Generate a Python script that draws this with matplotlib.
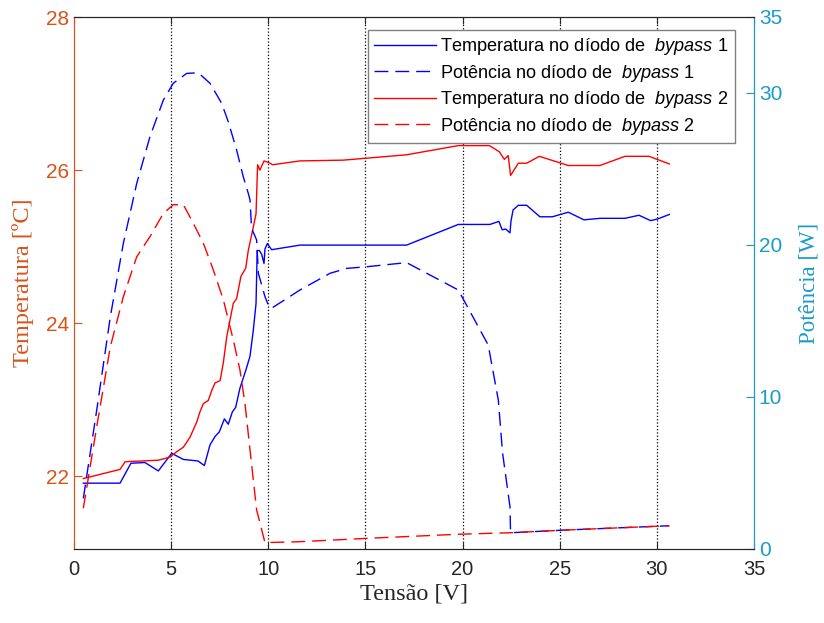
import matplotlib
matplotlib.use("Agg")
import matplotlib.pyplot as plt

# Temperatura no díodo de bypass 1 (blue solid)
v_t1 = [0.48, 2.37, 2.93, 3.65, 4.34, 5.03, 5.63, 6.38, 6.71, 7.0, 7.26, 7.48, 7.74, 7.94,
        8.15, 8.32, 8.54, 8.85, 9.06, 9.23, 9.37, 9.43, 9.54, 9.66, 9.78, 9.83, 9.95, 10.17,
        11.63, 17.12, 19.78, 21.41, 21.87, 22.04, 22.22, 22.44, 22.49, 22.6, 22.87, 23.3,
        23.98, 24.62, 25.44, 26.25, 27.07, 28.36, 29.08, 29.68, 30.02, 30.64]
t1 = [21.91, 21.91, 22.17, 22.18, 22.07, 22.30, 22.22, 22.20, 22.14, 22.41, 22.52, 22.58, 22.75, 22.68,
      22.84, 22.90, 23.15, 23.39, 23.57, 23.91, 24.26, 24.95, 24.95, 24.90, 24.78, 24.97, 25.04, 24.96,
      25.02, 25.02, 25.29, 25.29, 25.33, 25.22, 25.23, 25.18, 25.33, 25.48, 25.54, 25.54,
      25.39, 25.39, 25.45, 25.35, 25.37, 25.37, 25.41, 25.34, 25.36, 25.42]

# Temperatura no díodo de bypass 2 (red solid)
v_t2 = [0.48, 2.37, 2.63, 4.34, 4.94, 5.28, 5.63, 5.97, 6.32, 6.48, 6.66, 6.91, 7.09, 7.26, 7.52,
        7.69, 7.86, 7.99, 8.2, 8.37, 8.59, 8.84, 8.97, 9.2, 9.37, 9.45, 9.57, 9.78, 10.0, 10.23,
        11.63, 13.86, 17.12, 19.78, 21.38, 21.89, 22.15, 22.35, 22.47, 22.87, 23.3, 23.95, 25.44,
        27.07, 28.36, 29.6, 30.64]
t2 = [21.97, 22.09, 22.19, 22.21, 22.25, 22.32, 22.38, 22.51, 22.71, 22.84, 22.95, 22.99, 23.12, 23.22, 23.25,
      23.49, 23.82, 23.99, 24.26, 24.32, 24.61, 24.72, 24.95, 25.22, 25.43, 26.07, 26.0, 26.12, 26.1, 26.07,
      26.12, 26.13, 26.2, 26.32, 26.32, 26.24, 26.14, 26.19, 25.93, 26.09, 26.09, 26.18, 26.06,
      26.06, 26.18, 26.18, 26.08]

# Potência no díodo de bypass 1 (blue dashed)
v_p1 = [0.48, 1.17, 1.87, 2.54, 3.23, 3.91, 4.6, 5.11, 5.8, 6.4, 7.0, 7.6, 7.94, 8.37, 8.71,
        8.97, 9.06, 9.14, 9.4, 9.49, 9.83, 10.0, 10.17, 11.63, 13.18, 14.03, 15.06, 17.12, 19.78,
        21.32, 21.84, 22.06, 22.44, 22.47, 25.35, 30.64]
p1 = [3.33, 9.14, 15.28, 20.11, 24.06, 27.13, 29.54, 30.64, 31.29, 31.33, 30.64, 29.32, 28.11, 26.25, 24.5,
      23.4, 22.96, 21.1, 20.33, 18.14, 16.6, 16.05, 15.84, 17.04, 18.14, 18.46, 18.57, 18.84, 17.04,
      13.42, 9.8, 6.3, 2.78, 1.07, 1.25, 1.53]

# Potência no díodo de bypass 2 (red dashed)
v_p2 = [0.48, 1.17, 1.87, 2.54, 3.23, 3.91, 4.6, 5.11, 5.63, 6.14, 6.66, 7.17, 7.69, 8.2, 8.54,
        8.8, 9.06, 9.4, 9.83, 11.63, 15.06, 19.78, 22.47, 25.35, 30.64]
p2 = [2.68, 8.05, 13.31, 16.6, 19.23, 20.55, 22.08, 22.65, 22.65, 21.43, 20.11, 18.36, 16.38, 13.75, 11.78,
      9.58, 6.51, 2.57, 0.42, 0.48, 0.7, 0.97, 1.07, 1.25, 1.53]

left_color = '#D95319'
right_color = '#1a9bc8'

plt.rcParams['mathtext.fontset'] = 'custom'
plt.rcParams['mathtext.it'] = 'Liberation Sans:italic'
plt.rcParams['mathtext.rm'] = 'Liberation Sans'

fig = plt.figure(figsize=(8.24, 6.23), dpi=100)
ax = fig.add_axes([74 / 824, 1 - 549 / 623, 680 / 824, 532 / 623])
ax2 = ax.twinx()

dash = (10, 5)
l1, = ax.plot(v_t1, t1, '-', color='#0000ff', lw=1.0,
              label='Temperatura no díodo de  $\\mathit{bypass}$ 1')
l2, = ax2.plot(v_p1, p1, '--', color='#0000ff', lw=1.0, dashes=dash,
               label='Potência no díodo de  $\\mathit{bypass}$ 1')
l3, = ax.plot(v_t2, t2, '-', color='#ff0000', lw=1.0,
              label='Temperatura no díodo de  $\\mathit{bypass}$ 2')
l4, = ax2.plot(v_p2, p2, '--', color='#ff0000', lw=1.0, dashes=dash,
               label='Potência no díodo de  $\\mathit{bypass}$ 2')

ax.set_xlim(0, 35)
ax.set_ylim(21.05, 28)
ax2.set_ylim(0, 35)
ax.set_xticks(range(0, 36, 5))
ax.set_yticks([22, 24, 26, 28])
ax2.set_yticks([0, 10, 20, 30, 35])

for x in range(5, 35, 5):
    ax.axvline(x, color='black', ls=':', lw=0.9, zorder=0)

tick_font = 'Liberation Sans'
ax.tick_params(axis='x', direction='in', labelsize=14.5, colors='#262626', top=True, length=5, pad=8)
ax.tick_params(axis='y', direction='in', labelsize=15, colors=left_color, length=6)
ax2.tick_params(axis='y', direction='in', labelsize=15, colors=right_color, length=6)
for lab in ax.get_xticklabels() + ax.get_yticklabels() + ax2.get_yticklabels():
    lab.set_family(tick_font)

ax.set_xlabel('Tensão [V]', family='Liberation Serif', fontsize=17.5, color='#262626', labelpad=3)
ax.set_ylabel('Temperatura [ºC]', family='Liberation Serif', fontsize=17.5, color=left_color, labelpad=9)
ax2.set_ylabel('Potência [W]', family='Liberation Serif', fontsize=16.5, color=right_color, labelpad=12)

for a in (ax, ax2):
    a.spines['top'].set_color('#262626')
    a.spines['bottom'].set_color('#262626')
    a.spines['left'].set_color(left_color)
    a.spines['right'].set_color(right_color)

leg = ax2.legend(handles=[l1, l2, l3, l4], loc='upper right',
                 bbox_to_anchor=((735 - 74) / 680, 1 - 13 / 532), borderaxespad=0,
                 prop={'family': 'Liberation Sans', 'size': 13.1}, fancybox=False,
                 edgecolor='#808080', framealpha=1, handlelength=3.4, labelspacing=0.3,
                 handletextpad=0.25, borderpad=0.35)
leg.get_frame().set_linewidth(1.0)

fig.savefig('out.png', dpi=100)
